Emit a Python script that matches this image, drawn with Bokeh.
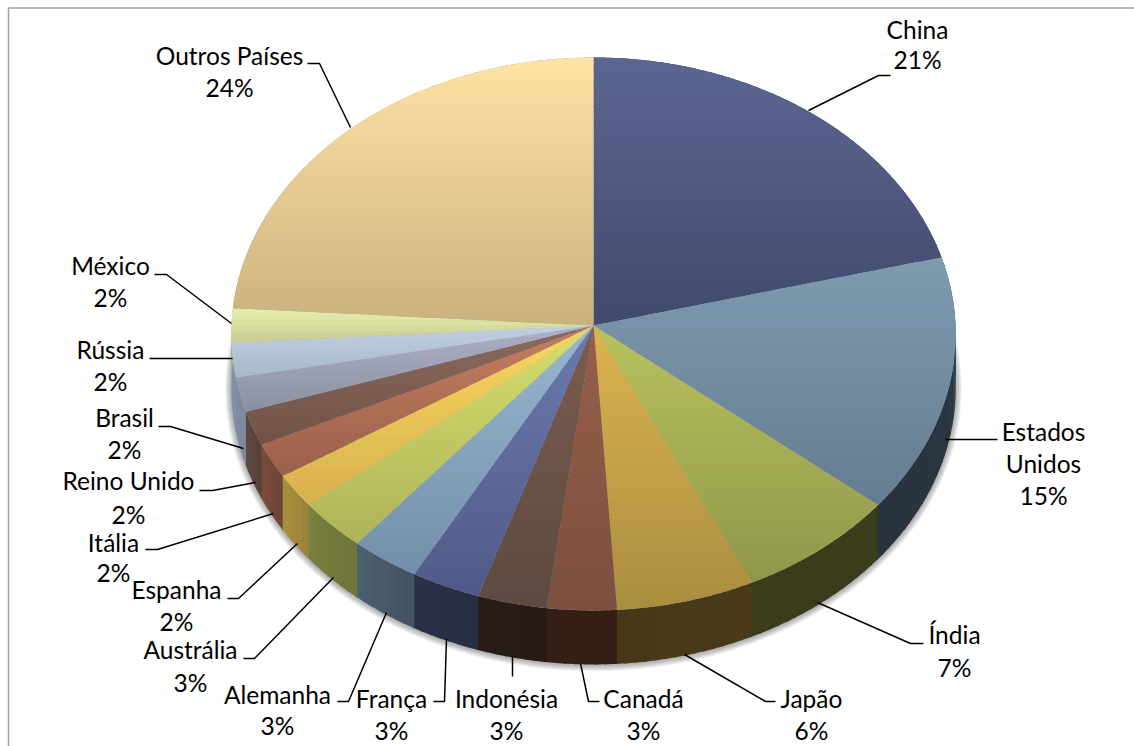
import numpy as np
from bokeh.plotting import figure
from bokeh.models import ColumnDataSource
from bokeh.core.properties import value
from bokeh.embed import file_html
from bokeh.resources import INLINE

# ---- data ----
categories = ["China", "Estados Unidos", "Índia", "Japão", "Canadá", "Indonésia", "França", "Alemanha",
              "Austrália", "Espanha", "Itália", "Reino Unido", "Brasil", "Rússia", "México", "Outros Países"]
shares = [21, 15, 7, 6, 3, 3, 3, 3, 3, 2, 2, 2, 2, 2, 2, 24]

# ---- style ----
top_start = ["#5c6693", "#7e9bb0", "#b9c25e", "#dcb450", "#975f4a", "#7c5c50", "#6c7aae", "#98b8d0",
             "#d6de6c", "#f8d860", "#c47f62", "#8c6b5e", "#b0b0c8", "#c0d0e0", "#e8eeb0", "#ffe3a6"]
top_end = ["#404a6c", "#657c92", "#8f9649", "#a98d40", "#7c4f3e", "#5c4a40", "#505a88", "#738ea8",
           "#aeb458", "#d8b050", "#9c5f4a", "#705248", "#88909f", "#a8b8c8", "#c8cc90", "#c8b27e"]
wall_start = ["#2b3945", "#2b3945", "#3b3c1c", "#4a3a1a", "#351f14", "#281b17", "#272e44", "#43525f",
              "#6f7438", "#98803a", "#6e4436", "#564238", "#7e8aa0", "#8090a8", "#b0b080", "#b0a070"]
wall_end = ["#2b3945", "#28333f", "#3b3c1c", "#463818", "#331f15", "#281c18", "#2a3148", "#4c6070",
            "#7a8040", "#a8903c", "#7a4c3c", "#5e4a40", "#7e8aa0", "#8090a8", "#b0b080", "#b0a070"]

# label layout: centre x, line y's
label_layout = {
    "China": (917, [29, 59]),
    "Estados Unidos": (1043, [431, 463, 495]),
    "Índia": (954, [634, 667]),
    "Japão": (811, [698, 730]),
    "Canadá": (643, [698, 730]),
    "Indonésia": (506, [698, 730]),
    "França": (391, [698, 730]),
    "Alemanha": (277, [694, 725]),
    "Austrália": (190, [649, 682]),
    "Espanha": (176, [589, 621]),
    "Itália": (113, [542, 572]),
    "Reino Unido": (128, [480, 514]),
    "Brasil": (124, [417, 449]),
    "Rússia": (110, [349, 381]),
    "México": (110, [265, 297]),
    "Outros Países": (229, [55, 87]),
}
leaders = {
    "China": ([808, 878, 890], [110, 75, 75]),
    "Estados Unidos": ([945, 997], [439, 439]),
    "Índia": ([817, 910, 923], [602, 643, 643]),
    "Japão": ([684, 765, 775], [654, 701, 701]),
    "Canadá": ([580, 588, 599], [663, 701, 701]),
    "Indonésia": ([512, 512], [655, 676]),
    "França": ([446, 444, 433], [638, 701, 701]),
    "Alemanha": ([386, 348, 337], [612, 701, 701]),
    "Austrália": ([333, 254, 243], [577, 658, 658]),
    "Espanha": ([297, 238, 227], [543, 598, 598]),
    "Itália": ([273, 157, 145], [513, 549, 549]),
    "Reino Unido": ([255, 212, 199], [482, 490, 490]),
    "Brasil": ([243, 170, 158], [448, 426, 426]),
    "Rússia": ([232, 149], [358, 358]),
    "México": ([231, 166, 154], [323, 274, 274]),
    "Outros Países": ([350, 319, 307], [127, 63, 63]),
}

CX, CY, RX, RY, PERSP, DEPTH = 593.0, 325.0, 362.0, 276.2, 0.0307, 54.0


def hex2rgb(h):
    return np.array([int(h[i:i + 2], 16) for i in (1, 3, 5)], dtype=float)


def mix(a, b, t):
    c = hex2rgb(a) * (1 - t) + hex2rgb(b) * t
    return "#%02x%02x%02x" % tuple(int(round(v)) for v in c)


def rim(theta, grow=0.0, dy=0.0):
    d = 1 + PERSP * np.cos(theta)
    return CX + (RX + grow) * np.sin(theta) / d, CY + dy - (RY + grow) * np.cos(theta) / d


def clip(poly, y0, y1):
    def half(pts, inside, cross):
        out = []
        for i in range(len(pts)):
            a, b = pts[i], pts[(i + 1) % len(pts)]
            if inside(a):
                out.append(a)
            if inside(a) != inside(b):
                t = (cross - a[1]) / (b[1] - a[1])
                out.append((a[0] + (b[0] - a[0]) * t, cross))
        return out
    p1 = half(poly, lambda q: q[1] >= y0, y0)
    return half(p1, lambda q: q[1] <= y1, y1) if p1 else []


edges = np.radians(np.cumsum([0] + shares) * 3.6)

p = figure(width=1134, height=746, x_range=(0, 1134), y_range=(746, 0), output_backend="svg",
           toolbar_location=None, min_border=0, outline_line_color=None, background_fill_color="white")
p.xaxis.visible = False
p.yaxis.visible = False
p.grid.visible = False

# frame
p.line([8, 8, 1134], [746, 7.5, 7.5], line_color="#a3a3a3", line_width=1.5)

# soft shadow under the wall
full = np.linspace(0, 2 * np.pi, 361)
for g in (6, 5, 4, 3, 2, 1):
    sx, sy = rim(full, grow=g, dy=DEPTH + 0.5)
    p.patch(sx, sy, fill_color="#404040", fill_alpha=0.08, line_color=None)

# walls: angular segments, each overlapping the next so no seams show
wx, wy, wc = [], [], []
for i in range(len(shares)):
    n = max(2, int(np.degrees(edges[i + 1] - edges[i]) / 1.5))
    ts = np.linspace(edges[i], edges[i + 1], n + 1)
    for j in range(n):
        end = ts[j + 1] + np.radians(0.4)
        t = np.linspace(ts[j], end, 4)
        xa, ya = rim(t)
        xb, yb = rim(t[::-1], dy=DEPTH)
        wx.append(list(xa) + list(xb))
        wy.append(list(ya) + list(yb))
        wc.append(mix(wall_start[i], wall_end[i], (j + 0.5) / n))
p.patches("x", "y", source=ColumnDataSource(dict(x=wx, y=wy, c=wc)), fill_color="c", line_color=None)

# top faces, banded top-down with overlap so that each slice shades smoothly
tx, ty, tc = [], [], []
for i in range(len(shares)):
    t = np.linspace(edges[i], edges[i + 1], max(6, int(np.degrees(edges[i + 1] - edges[i]))))
    rx_, ry_ = rim(t)
    poly = [(CX, CY)] + list(zip(rx_, ry_))
    ys_ = [q[1] for q in poly]
    y0, y1 = min(ys_), max(ys_)
    bands = max(3, int((y1 - y0) / 5))
    cuts = np.linspace(y0, y1, bands + 1)
    for b in range(bands):
        piece = clip(poly, cuts[b], min(y1, cuts[b + 1] + 2))
        if len(piece) >= 3:
            tx.append([q[0] for q in piece])
            ty.append([q[1] for q in piece])
            tc.append(mix(top_start[i], top_end[i], (b + 0.5) / bands))
p.patches("x", "y", source=ColumnDataSource(dict(x=tx, y=ty, c=tc)), fill_color="c", line_color=None)

# leader lines
for name in categories:
    lx, ly = leaders[name]
    p.line(lx, ly, line_color="black", line_width=1.5)

# labels
lab_x, lab_y, lab_t = [], [], []
for name, val in zip(categories, shares):
    cx_, rows = label_layout[name]
    parts = name.split(" ") if name == "Estados Unidos" else [name]
    for txt, yy in zip(parts + [f"{val}%"], rows):
        lab_x.append(cx_)
        lab_y.append(yy)
        lab_t.append(txt)
p.text("x", "y", text="t", source=ColumnDataSource(dict(x=lab_x, y=lab_y, t=lab_t)),
       text_font=value("Lato"), text_font_size="24.5px", text_color="black",
       text_align="center", text_baseline="middle")

open("out.html", "w").write(file_html(p, INLINE))
